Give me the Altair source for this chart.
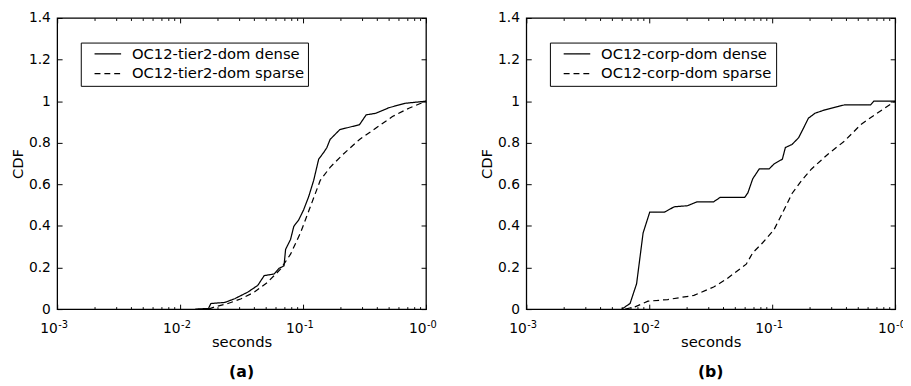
import altair as alt
import pandas as pd

FONT = "DejaVu Sans"
W, H = 375, 296

# ---- data ----
a_names = ["OC12-tier2-dom dense", "OC12-tier2-dom sparse"]
a_dense_x = [0.0133, 0.0170, 0.0178, 0.0231, 0.0278, 0.0356, 0.0428, 0.0483, 0.0582, 0.0638,
             0.0700, 0.0721, 0.0791, 0.0841, 0.0922, 0.101, 0.111, 0.122, 0.134, 0.147,
             0.156, 0.166, 0.199, 0.225, 0.288, 0.326, 0.392, 0.502, 0.683, 1.0]
a_dense_y = [0.0, 0.003, 0.027, 0.032, 0.05, 0.082, 0.114, 0.161, 0.169, 0.196,
             0.208, 0.287, 0.335, 0.398, 0.429, 0.477, 0.540, 0.619, 0.721, 0.753,
             0.776, 0.816, 0.863, 0.871, 0.887, 0.934, 0.942, 0.969, 0.990, 1.0]
a_sparse_x = [0.0170, 0.0192, 0.0245, 0.0314, 0.0402, 0.0514, 0.0658, 0.0791, 0.0952, 0.1146,
              0.138, 0.166, 0.212, 0.288, 0.392, 0.533, 0.726, 1.0]
a_sparse_y = [0.0, 0.011, 0.027, 0.050, 0.082, 0.129, 0.193, 0.264, 0.366, 0.492,
              0.619, 0.682, 0.745, 0.816, 0.871, 0.926, 0.966, 1.0]

b_names = ["OC12-corp-dom dense", "OC12-corp-dom sparse"]
b_dense_x = [0.00598, 0.00698, 0.00789, 0.00891, 0.01009, 0.01327, 0.01595, 0.0204, 0.0245, 0.0334,
             0.0377, 0.0597, 0.0634, 0.0695, 0.0785, 0.0944, 0.1035, 0.121, 0.128, 0.145,
             0.164, 0.180, 0.197, 0.223, 0.268, 0.342, 0.387, 0.631, 0.671, 1.0]
b_dense_y = [0.0, 0.027, 0.122, 0.366, 0.466, 0.466, 0.492, 0.497, 0.516, 0.516,
             0.537, 0.537, 0.559, 0.627, 0.674, 0.674, 0.698, 0.721, 0.777, 0.792,
             0.824, 0.871, 0.918, 0.942, 0.958, 0.974, 0.982, 0.982, 1.0, 1.0]
b_sparse_x = [0.00637, 0.00766, 0.00977, 0.01413, 0.0231, 0.0334, 0.0426, 0.0615, 0.0695, 0.0836,
              0.1035, 0.121, 0.145, 0.174, 0.209, 0.284, 0.387, 0.525, 0.713, 1.0]
b_sparse_y = [0.0, 0.011, 0.038, 0.046, 0.066, 0.106, 0.145, 0.216, 0.271, 0.319,
              0.382, 0.461, 0.556, 0.619, 0.674, 0.745, 0.808, 0.887, 0.942, 1.0]

decades = [0.001, 0.01, 0.1, 1.0]
exponents = ["-3", "-2", "-1", "-0"]
minors = [m * d for d in [0.001, 0.01, 0.1] for m in range(2, 10)]
xticks = sorted(decades + minors)
yticks = [0, 0.2, 0.4, 0.6, 0.8, 1, 1.2, 1.4]

MAJOR = "abs(log(datum.value)/LN10 - round(log(datum.value)/LN10)) < 0.001"


def panel(dx, dy, sx, sy, names, letter):
    df = pd.concat([
        pd.DataFrame({"x": dx, "cdf": dy, "series": names[0]}),
        pd.DataFrame({"x": sx, "cdf": sy, "series": names[1]}),
    ])
    xs = alt.Scale(type="log", domain=[0.001, 1.0], nice=False)
    ys = alt.Scale(domain=[0, 1.4], nice=False)

    lines = alt.Chart(df).mark_line(color="black", strokeWidth=1.25, clip=True).encode(
        x=alt.X("x:Q", scale=xs, axis=alt.Axis(
            values=decades, labelExpr="'10'", labelAlign="right", labelPadding=13,
            tickSize=0, domain=False, grid=False, title="seconds", titlePadding=-1)),
        y=alt.Y("cdf:Q", scale=ys, axis=alt.Axis(
            values=yticks, format="~g", tickSize=0, domain=False, grid=False,
            title="CDF", labelPadding=7, titlePadding=3)),
        strokeDash=alt.StrokeDash("series:N", scale=alt.Scale(domain=names, range=[[1, 0], [6, 4]]),
                                  legend=alt.Legend(
                                      title=None, orient="none", legendX=24, legendY=25,
                                      direction="vertical", padding=4, strokeColor="black",
                                      fillColor="white", cornerRadius=0, labelFontSize=15,
                                      labelFont=FONT, labelColor="black", labelLimit=400,
                                      symbolType="M-3,0H3", symbolSize=81,
                                      symbolStrokeColor="black", symbolStrokeWidth=1.2,
                                      symbolOffset=16, labelOffset=17, rowPadding=4)),
        order="x:Q",
    )

    tick_in_a = alt.Chart(df).mark_line(strokeOpacity=0).encode(
        x=alt.X("x:Q", scale=xs, axis=alt.Axis(
            orient="top", offset=-H, values=xticks, labels=False, domain=False, grid=False,
            title="", tickColor="black",
            tickSize={"condition": {"test": MAJOR, "value": 5}, "value": 2.5})),
        y=alt.Y("cdf:Q", scale=ys, axis=alt.Axis(
            orient="right", offset=-W, values=yticks, labels=False, domain=False, grid=False,
            title="", tickColor="black", tickSize=5)),
        detail="series:N",
    )
    tick_in_b = alt.Chart(df).mark_line(strokeOpacity=0).encode(
        x=alt.X("x:Q", scale=xs, axis=alt.Axis(
            orient="bottom", offset=-H, values=xticks, labels=False, domain=False, grid=False,
            title="", tickColor="black",
            tickSize={"condition": {"test": MAJOR, "value": 5}, "value": 2.5})),
        y=alt.Y("cdf:Q", scale=ys, axis=alt.Axis(
            orient="left", offset=-W, values=yticks, labels=False, domain=False, grid=False,
            title="", tickColor="black", tickSize=5)),
        detail="series:N",
    )

    exp_df = pd.DataFrame({"x": decades, "e": exponents})
    exps = alt.Chart(exp_df).mark_text(
        align="left", baseline="middle", dx=1, dy=16, fontSize=10, font=FONT, color="black"
    ).encode(
        x=alt.X("x:Q", scale=xs, axis=None),
        y=alt.YDatum(0, scale=ys, axis=None),
        text="e:N",
    )

    return alt.layer(lines, tick_in_a, tick_in_b, exps).resolve_axis(
        x="independent", y="independent"
    ).properties(
        width=W, height=H,
        title=alt.TitleParams(letter, orient="bottom", fontSize=16, fontWeight="bold",
                              font=FONT, color="black", offset=15),
    )


pa = panel(a_dense_x, a_dense_y, a_sparse_x, a_sparse_y, a_names, "(a)")
pb = panel(b_dense_x, b_dense_y, b_sparse_x, b_sparse_y, b_names, "(b)")

chart = alt.hconcat(pa, pb, spacing=42).resolve_scale(
    strokeDash="independent"
).properties(
    padding={"left": 2, "top": -1, "right": -4, "bottom": 0}
).configure_view(
    stroke="black", strokeWidth=1.3
).configure_axis(
    labelFont=FONT, titleFont=FONT, labelFontSize=14, titleFontSize=15,
    labelColor="black", titleColor="black", titleFontWeight="normal"
)

chart.save("out.html", embed_options={"renderer": "svg", "actions": False})
